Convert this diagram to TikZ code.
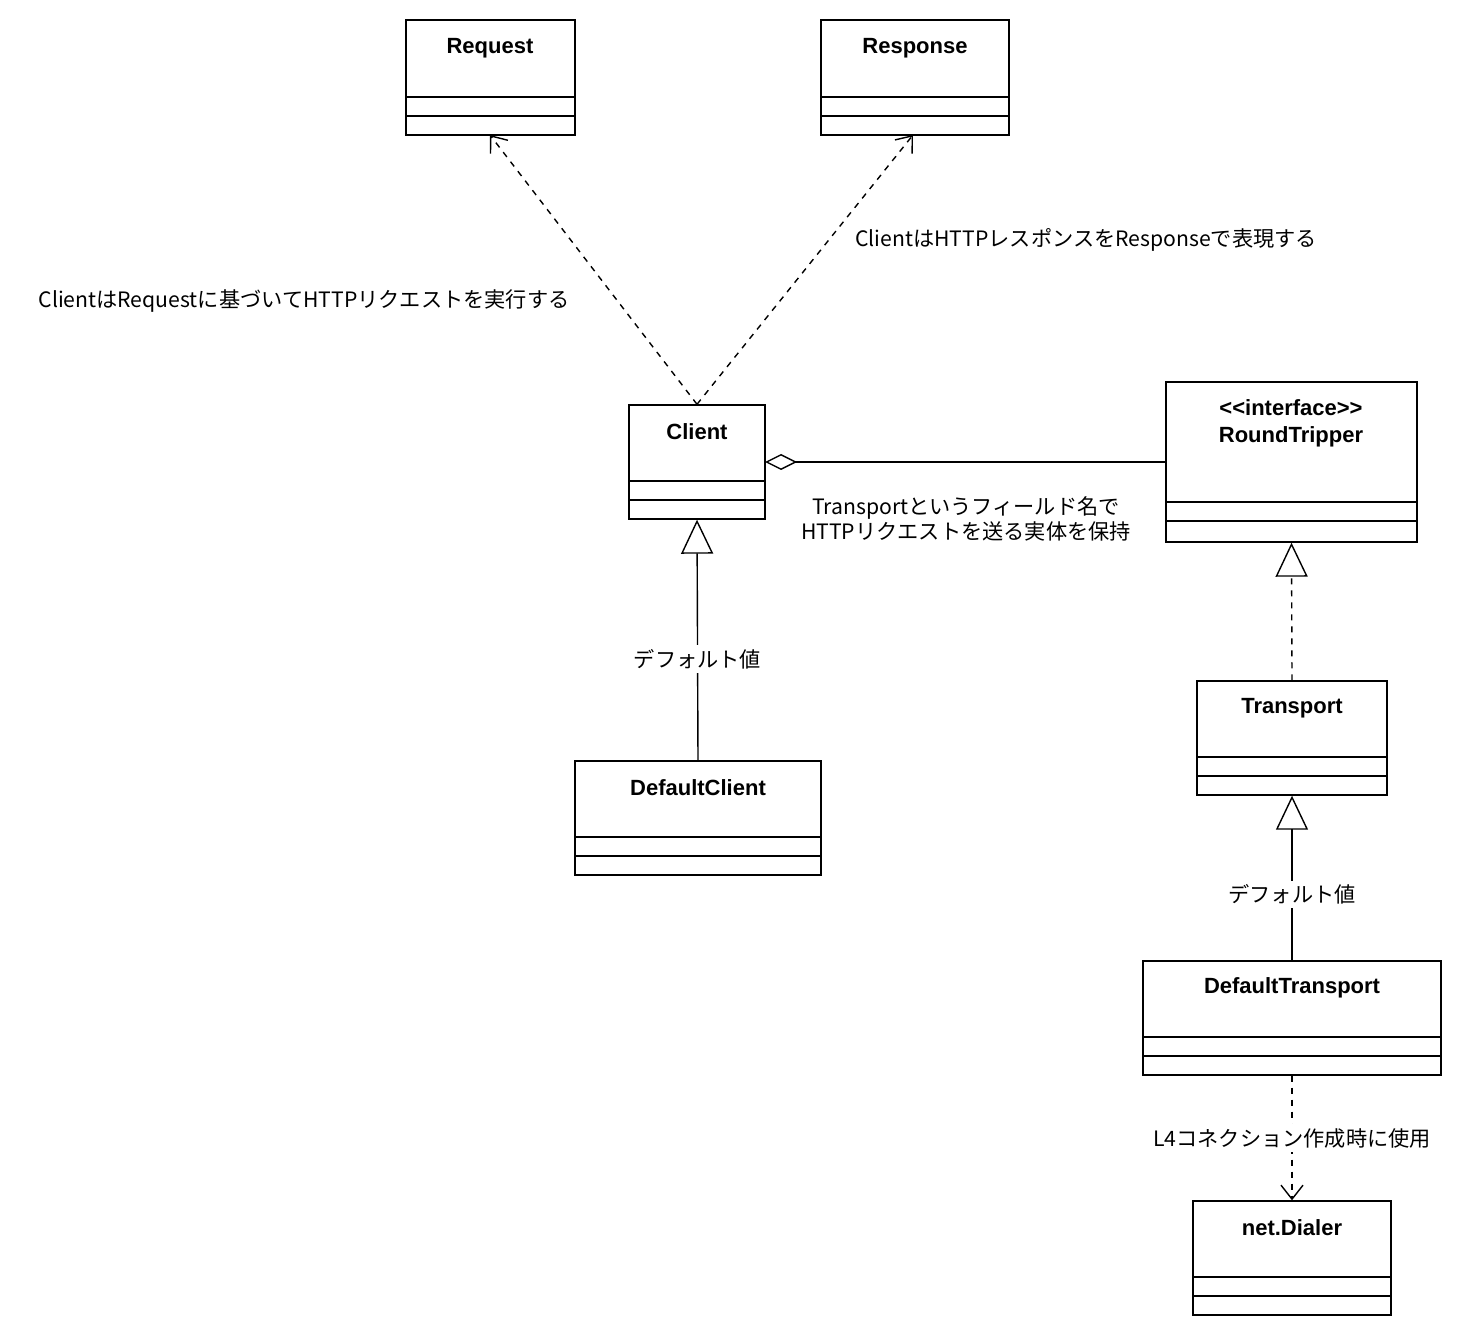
\documentclass[tikz,border=0pt]{standalone}
\usepackage{fontspec}
\setmainfont{Noto Sans CJK JP}
\newfontfamily\ttlfont{Liberation Sans}
\usetikzlibrary{arrows.meta}
\begin{document}
\begin{tikzpicture}[x=0.5pt,y=-0.5pt,line width=0.7pt,
  lbl/.style={font=\fontsize{10.6}{12.5}\selectfont,inner sep=1pt},
  ttl/.style={font=\ttlfont\bfseries\fontsize{11}{13.5}\selectfont,align=center},
  dep/.style={dashed,-{Straight Barb[length=7pt,width=11pt]}},
  inh/.style={-{Triangle[open,length=17pt,width=16pt]}},
  real/.style={dashed,-{Triangle[open,length=17pt,width=16pt]}}]
\useasboundingbox (0,0) rectangle (1468,1336);
\newcommand{\umlbox}[7]{%
  \draw (#2,#3) rectangle (#4,#5);
  \draw (#2,#6) -- (#4,#6) (#2,#7) -- (#4,#7);
  \node[inner sep=0,minimum width={(#4-#2)*0.5pt},minimum height={(#5-#3)*0.5pt}] (#1) at ({(#2+#4)/2},{(#3+#5)/2}) {};
}
\umlbox{req}{406}{20}{575}{135}{97}{116}
\node[ttl] at (490,48) {Request};
\umlbox{res}{821}{20}{1009}{135}{97}{116}
\node[ttl] at (915,48) {Response};
\umlbox{cli}{629}{405}{765}{519}{481}{500}
\node[ttl] at (697,432) {Client};
\umlbox{rt}{1166}{382}{1417}{542}{502}{521}
\node[ttl] at (1291,423) {<<interface>>\\RoundTripper};
\umlbox{tr}{1197}{681}{1387}{795}{757}{776}
\node[ttl] at (1292,708) {Transport};
\umlbox{dc}{575}{761}{821}{875}{837}{856}
\node[ttl] at (698,788) {DefaultClient};
\umlbox{dt}{1143}{961}{1441}{1075}{1037}{1056}
\node[ttl] at (1292,988) {DefaultTransport};
\umlbox{nd}{1193}{1201}{1391}{1315}{1277}{1296}
\node[ttl] at (1292,1228) {net.Dialer};

\draw[dep] (cli.north) -- (490,135);
\draw[dep] (cli.north) -- (913,135);
\node[lbl] at (304,301) {ClientはRequestに基づいてHTTPリクエストを実行する};
\node[lbl] at (1086,240) {ClientはHTTPレスポンスをResponseで表現する};
\draw[{Diamond[open,length=16pt,width=8pt]}-] (765,462) -- (1166,462);
\node[lbl,align=center] at (966,519) {Transportというフィールド名で\\HTTPリクエストを送る実体を保持};
\draw[inh] (dc.north) -- (cli.south) node[pos=0.42,lbl,fill=white,inner sep=2pt] {デフォルト値};
\draw[real] (tr.north) -- (rt.south);
\draw[inh] (dt.north) -- (tr.south) node[pos=0.4,lbl,fill=white,inner sep=2pt] {デフォルト値};
\draw[dep] (dt.south) -- (nd.north) node[midway,lbl,fill=white,inner sep=2pt] {L4コネクション作成時に使用};
\end{tikzpicture}
\end{document}
